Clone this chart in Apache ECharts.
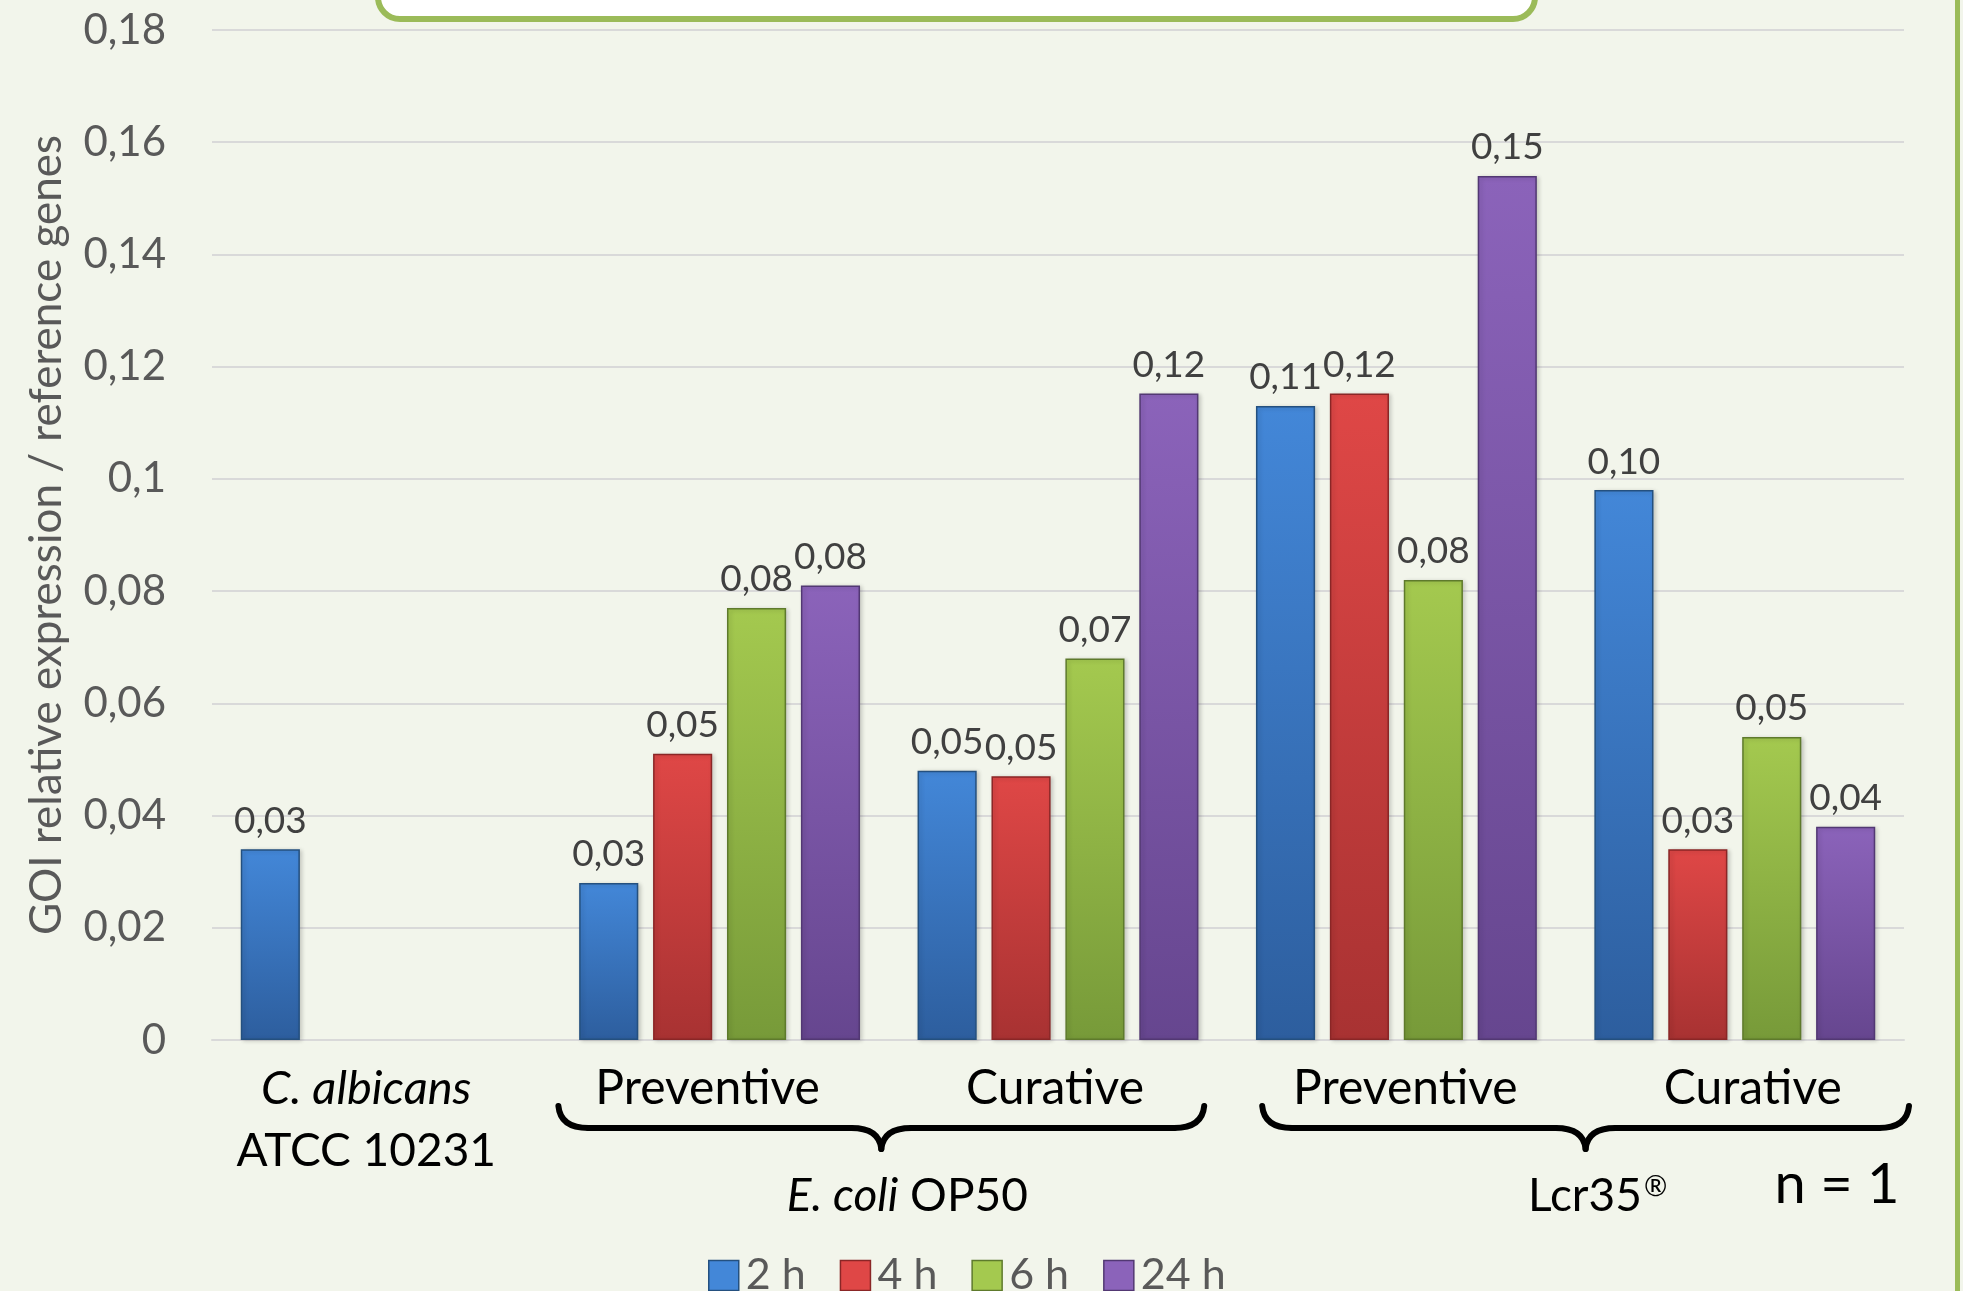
<!DOCTYPE html>
<html><head><meta charset="utf-8">
<script src="https://cdn.jsdelivr.net/npm/echarts@6/dist/echarts.min.js"></script>
<style>html,body{margin:0;padding:0;background:#F2F5EB;} #c{width:1963px;height:1291px;}</style>
</head><body><div id="c"></div>
<script>
// ---- data ----
const categories = ['C. albicans|ATCC 10231', 'Preventive', 'Curative', 'Preventive', 'Curative'];
const seriesNames = ['2 h', '4 h', '6 h', '24 h'];
const values2h  = [0.034, 0.028, 0.048, 0.113, 0.098];
const values4h  = [null,  0.051, 0.047, 0.1152, 0.034];
const values6h  = [null,  0.077, 0.068, 0.082, 0.054];
const values24h = [null,  0.081, 0.1152, 0.154, 0.038];
const yMin = 0, yMax = 0.18, yInterval = 0.02;
const groupNames = ['E. coli OP50', 'Lcr35®'];
const groupFrom = [1, 3];
const groupTo = [2, 4];
const noteText = 'n = 1';
const yAxisTitle = 'GOI relative expression / reference genes';

// ---- style ----
const FONT = 'Lato';
const palette = [
  ['#4387D8', '#2D5E9E', '#24507F'],
  ['#DF4746', '#A83232', '#8A2626'],
  ['#A4C94F', '#779A39', '#5E7A2C'],
  ['#8B63BA', '#66468F', '#523873']
];
const labelShift = [-15, -12, -3, 9, 18];
const braceInset = [[8, -23], [35, 5]];
const groupTextShift = [26, 12];
const allValues = [values2h, values4h, values6h, values24h];
const fmtLabel = v => v.toFixed(2).replace('.', ',');
const fmtTick = v => Number(v.toFixed(2)).toString().replace('.', ',');

const chart = echarts.init(document.getElementById('c'), null, {renderer: 'canvas'});

const series = allValues.map((vals, i) => ({
  name: seriesNames[i],
  type: 'bar',
  data: vals,
  barGap: '25%',
  barCategoryGap: '17%',
  itemStyle: {
    color: new echarts.graphic.LinearGradient(0, 0, 0, 1, [
      {offset: 0, color: palette[i][0]},
      {offset: 1, color: palette[i][1]}
    ]),
    borderColor: palette[i][2],
    borderWidth: 1.5,
    shadowColor: 'rgba(0,0,0,0.18)',
    shadowBlur: 4,
    shadowOffsetX: 2,
    shadowOffsetY: 1
  },
  label: {
    show: true,
    position: 'top',
    distance: 10,
    color: '#404040',
    fontFamily: FONT,
    fontSize: 37,
    formatter: p => p.value == null ? '' : fmtLabel(p.value)
  }
}));

const rich = {};
labelShift.forEach((s, i) => {
  const pad = s < 0 ? [0, -2 * s, 0, 0] : [0, 0, 0, 2 * s];
  rich['it' + i] = {fontFamily: FONT, fontStyle: 'italic', fontSize: 47, color: '#000', lineHeight: 63, padding: pad};
  rich['n' + i] = {fontFamily: FONT, fontSize: i === 0 ? 46 : 48, color: '#000', lineHeight: 63, padding: pad};
});

const option = {
  backgroundColor: '#F2F5EB',
  animation: false,
  grid: {left: 212, right: 59, top: 30, bottom: 251, containLabel: false},
  legend: {
    data: seriesNames.map((n, i) => ({name: n, itemStyle: {color: palette[i][0], borderColor: palette[i][2], borderWidth: 1.5}})),
    left: 703, top: 1249,
    itemWidth: 30, itemHeight: 30, itemGap: 34,
    icon: 'rect',
    textStyle: {color: '#595959', fontFamily: FONT, fontSize: 43, padding: [0, 0, 0, 2]}
  },
  xAxis: {
    type: 'category',
    data: categories,
    axisTick: {show: false},
    axisLine: {lineStyle: {color: '#D9D9D9', width: 2}},
    axisLabel: {
      margin: 17,
      interval: 0,
      formatter: (v, idx) => {
        const parts = v.split('|');
        if (parts.length === 2) return '{it' + idx + '|' + parts[0] + '}\n{n' + idx + '|' + parts[1] + '}';
        return '{n' + idx + '|' + v + '}';
      },
      rich: rich
    }
  },
  yAxis: {
    type: 'value',
    min: yMin, max: yMax, interval: yInterval,
    name: yAxisTitle,
    nameLocation: 'middle',
    nameGap: 143,
    nameTextStyle: {color: '#595959', fontFamily: FONT, fontSize: 44},
    axisLine: {show: false},
    axisTick: {show: false},
    splitLine: {lineStyle: {color: '#D9D9D9', width: 2}},
    axisLabel: {
      margin: 46,
      color: '#595959', fontFamily: FONT, fontSize: 42,
      formatter: v => fmtTick(v)
    }
  },
  series: series
};
chart.setOption(option);

// ---- decorations: braces, group labels, title box, border ----
function braceParts(x1, x2, yTop, yLine, yTip) {
  const xm = (x1 + x2) / 2;
  const r = 30;
  const st = {fill: null, stroke: '#000', lineWidth: 6, lineCap: 'round'};
  const q = (ax, ay, bx, by, cx, cy) => ({type: 'bezierCurve', shape: {x1: ax, y1: ay, x2: bx, y2: by, cpx1: cx, cpy1: cy}, style: st});
  const l = (ax, ay, bx, by) => ({type: 'line', shape: {x1: ax, y1: ay, x2: bx, y2: by}, style: st});
  return [
    q(x1, yTop, x1 + r, yLine, x1 + 2, yLine),
    l(x1 + r, yLine, xm - r, yLine),
    q(xm - r, yLine, xm, yTip, xm - 2, yLine),
    q(xm, yTip, xm + r, yLine, xm + 2, yLine),
    l(xm + r, yLine, x2 - r, yLine),
    q(x2 - r, yLine, x2, yTop, x2 - 2, yLine)
  ];
}
const catW = chart.convertToPixel({xAxisIndex: 0}, 1) - chart.convertToPixel({xAxisIndex: 0}, 0);
let graphics = [];
groupNames.forEach((g, k) => {
  const xa = chart.convertToPixel({xAxisIndex: 0}, groupFrom[k]) - catW / 2 + braceInset[k][0];
  const xb = chart.convertToPixel({xAxisIndex: 0}, groupTo[k]) + catW / 2 + braceInset[k][1];
  graphics = graphics.concat(braceParts(xa, xb, 1106, 1128, 1149));
  const cx = (xa + xb) / 2 + groupTextShift[k];
  let txt;
  if (g.indexOf('E. coli') === 0) txt = '{it|E. coli}{n| OP50}';
  else if (g.indexOf('®') >= 0) txt = '{n|' + g.replace('®', '') + '}{sup|®}';
  else txt = '{n|' + g + '}';
  graphics.push({
    type: 'text', x: cx, y: 1196,
    style: {
      text: txt, align: 'center', verticalAlign: 'middle',
      rich: {
        it: {fontFamily: FONT, fontStyle: 'italic', fontSize: 46, fill: '#000'},
        n: {fontFamily: FONT, fontSize: 46, fill: '#000'},
        sup: {fontFamily: FONT, fontSize: 28, fill: '#000', verticalAlign: 'top', padding: [0, 0, 18, 2]}
      }
    }
  });
});
graphics.push({
  type: 'text', x: 1837, y: 1185,
  style: {text: noteText, align: 'center', verticalAlign: 'middle', fontFamily: FONT, fontSize: 56, fill: '#000'}
});
graphics.push({
  type: 'rect',
  shape: {x: 378, y: -80, width: 1157, height: 99, r: 22},
  style: {fill: '#FFFFFF', stroke: '#9BBB59', lineWidth: 6}
});
graphics.push({
  type: 'rect',
  shape: {x: 1955, y: 0, width: 5, height: 1291},
  style: {fill: '#9BBB59'}
});
chart.setOption({graphic: graphics});
</script>
</body></html>
